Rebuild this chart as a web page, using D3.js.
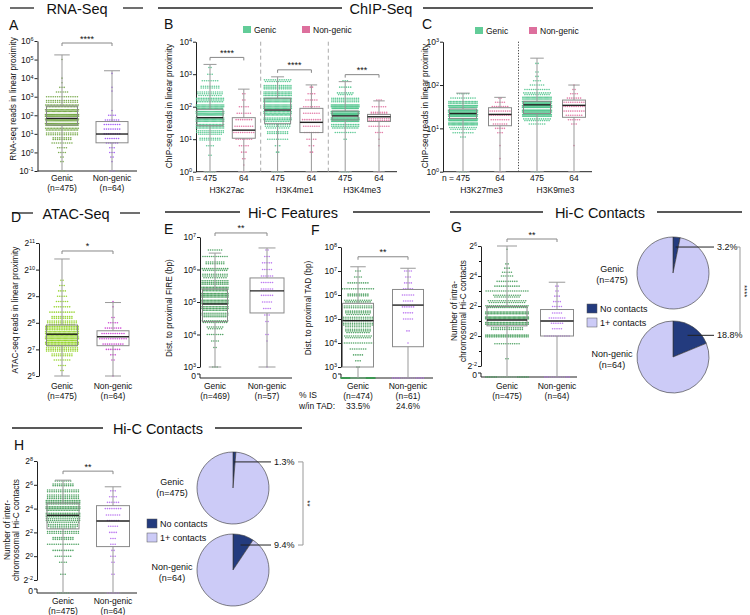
<!DOCTYPE html>
<html>
<head>
<meta charset="utf-8">
<script src="https://cdn.jsdelivr.net/npm/d3@7"></script>
<style>
  body { margin: 0; background: #fff; }
</style>
</head>
<body>
<div class="canvas"></div>
<script>
// ---------- data ----------
const groupNames = ["Genic", "Non-genic"];

// box stats: [low whisker, Q1, median, Q3, high whisker]
// dots: [value, how many points sit at that level]

// A - RNA-seq
const rnaCounts = ["(n=475)", "(n=64)"];
const rnaBoxes = [[0.1, 30, 68, 316, 178000], [0.1, 3.3, 9.8, 46, 25000]];
const rnaGenicDots = [[0.1, 3], [0.32, 2], [0.56, 2], [1, 4], [1.8, 5], [3.2, 10], [5.6, 18], [10, 30], [18, 45], [32, 65], [56, 65], [100, 70], [180, 55], [320, 45], [560, 30], [1000, 15], [1800, 6], [3200, 3], [5600, 1], [10000, 1], [100000, 1]];
const rnaNongenicDots = [[0.1, 3], [0.32, 1], [0.56, 2], [1, 3], [1.8, 3], [3.2, 6], [5.6, 7], [10, 8], [18, 8], [32, 8], [56, 7], [100, 4], [180, 1], [2000, 1], [3200, 1], [18000, 1]];

// B - ChIP-seq active marks
const chipMarks = ["H3K27ac", "H3K4me1", "H3K4me3"];
const chipN = ["475", "64"];
const chipStars = ["****", "****", "***"];
const chipGenicBoxes = [[1, 26, 46, 83, 2000], [1, 30, 79, 182, 830], [1, 39, 52, 74, 590]];
const chipNongenicBoxes = [[1, 10.7, 19, 46, 347], [1, 16, 33, 89, 468], [1, 35, 49, 58, 151]];
const chipGenicDots = [
  [[1, 5], [3.2, 2], [6.3, 4], [10, 20], [16, 40], [25, 60], [40, 75], [63, 80], [100, 70], [160, 50], [250, 35], [400, 18], [630, 8], [1000, 3], [1600, 2]],
  [[1, 5], [4, 2], [6.3, 3], [10, 10], [16, 20], [25, 35], [40, 50], [63, 65], [100, 75], [160, 75], [250, 60], [400, 45], [630, 25]],
  [[1, 4], [10, 2], [16, 10], [25, 50], [40, 110], [63, 130], [100, 100], [160, 45], [250, 15], [400, 6], [630, 3]]
];
const chipNongenicDots = [
  [[1, 2], [1.6, 1], [2.5, 2], [4, 3], [6.3, 5], [10, 8], [16, 10], [25, 9], [40, 8], [63, 7], [100, 5], [160, 2], [250, 2]],
  [[1, 2], [4, 2], [6.3, 3], [10, 5], [16, 7], [25, 8], [40, 9], [63, 8], [100, 8], [160, 6], [250, 4], [400, 2]],
  [[1, 2], [6.3, 1], [10, 1], [16, 4], [25, 10], [40, 20], [63, 16], [100, 7], [160, 3]]
];

// C - ChIP-seq repressive marks
const repMarks = ["H3K27me3", "H3K9me3"];
const repGenicBoxes = [[1, 17, 22, 28, 65], [1, 22, 35, 42, 417]];
const repNongenicBoxes = [[1, 11.5, 21, 30, 52], [1, 18, 34, 45, 100]];
const repGenicDots = [
  [[1, 4], [6.3, 3], [7.9, 10], [10, 25], [12.6, 50], [15.8, 75], [20, 95], [25, 90], [32, 65], [40, 40], [50, 12], [63, 6]],
  [[1, 3], [12.6, 8], [15.8, 25], [20, 60], [25, 90], [32, 100], [40, 85], [50, 50], [63, 25], [79, 12], [100, 7], [126, 4], [158, 2], [200, 2], [316, 2]]
];
const repNongenicDots = [
  [[1, 2], [2, 1], [4, 1], [7.9, 3], [10, 5], [12.6, 7], [15.8, 9], [20, 11], [25, 10], [32, 8], [40, 5], [50, 2]],
  [[1, 1], [4, 1], [12.6, 3], [15.8, 6], [20, 8], [25, 10], [32, 11], [40, 10], [50, 7], [63, 4], [79, 2], [100, 1]]
];

// D - ATAC-seq
const atacCounts = ["(n=475)", "(n=64)"];
const atacBoxes = [[64, 141, 190, 242, 1350], [64, 141, 178, 208, 434]];
const atacGenicDots = [[74, 2], [84, 4], [97, 8], [111, 20], [128, 45], [147, 70], [169, 85], [194, 80], [223, 60], [256, 40], [294, 20], [338, 12], [388, 8], [446, 6], [512, 5], [588, 4], [676, 3], [776, 2]];
const atacNongenicDots = [[64, 1], [97, 2], [111, 3], [128, 7], [147, 10], [169, 13], [194, 11], [223, 8], [256, 5], [294, 2], [388, 1], [446, 1]];

// E - distance to FIRE
const fireCounts = ["(n=469)", "(n=57)"];
const fireBoxes = [[1000, 25000, 87000, 250000, 3200000], [1000, 46000, 220000, 550000, 4600000]];
const fireGenicDots = [[1e3, 3], [4e3, 2], [6.3e3, 4], [1e4, 8], [1.6e4, 15], [2.5e4, 25], [4e4, 40], [6.3e4, 55], [1e5, 60], [1.6e5, 60], [2.5e5, 55], [4e5, 45], [6.3e5, 35], [1e6, 25], [1.6e6, 18], [2.5e6, 12], [4e6, 7]];
const fireNongenicDots = [[1e3, 1], [6.3e3, 1], [1e4, 2], [2.5e4, 2], [4e4, 3], [6.3e4, 4], [1e5, 5], [1.6e5, 6], [2.5e5, 6], [4e5, 6], [6.3e5, 6], [1e6, 5], [1.6e6, 5], [2.5e6, 3], [4e6, 2]];

// F - distance to TAD
const tadCounts = ["(n=474)", "(n=61)"];
const tadInside = ["33.5%", "24.6%"];
const tadBoxes = [[0, 1000, 85000, 450000, 15000000], [0, 7000, 380000, 1700000, 13000000]];
const tadGenicDots = [[0, 159], [1e3, 2], [1.8e3, 3], [3.2e3, 5], [5.6e3, 8], [1e4, 15], [1.8e4, 25], [3.2e4, 35], [5.6e4, 40], [1e5, 40], [1.8e5, 35], [3.2e5, 30], [5.6e5, 25], [1e6, 20], [1.8e6, 15], [3.2e6, 10], [5.6e6, 4], [1e7, 3]];
const tadNongenicDots = [[0, 15], [1e4, 1], [3.2e4, 2], [1e5, 5], [1.8e5, 5], [3.2e5, 6], [5.6e5, 5], [1e6, 6], [1.8e6, 5], [3.2e6, 4], [5.6e6, 3], [1e7, 4]];

// G - intra-chromosomal contacts
const intraCounts = ["(n=475)", "(n=64)"];
const intraBoxes = [[0, 1.6, 2.1, 3.9, 64], [0, 1.0, 2.0, 3.4, 12]];
const intraGenicDots = [[0, 25], [0.35, 2], [0.7, 12], [1, 50], [1.4, 30], [1.8, 60], [2.3, 70], [2.9, 60], [3.9, 45], [4.9, 35], [6.3, 25], [8, 20], [10, 12], [12.5, 10], [16, 6], [19, 5], [23, 3], [28, 2], [55, 1]];
const intraNongenicDots = [[0, 12], [1, 12], [1.4, 5], [1.8, 6], [2.3, 8], [2.9, 5], [3.9, 5], [4.9, 4], [6.3, 3], [8, 2], [10, 2]];
const intraNoContact = [3.2, 18.8];

// H - inter-chromosomal contacts
const interCounts = ["(n=475)", "(n=64)"];
const interBoxes = [[0, 4.9, 10.8, 22, 84], [0, 1.75, 7.8, 19, 57]];
const interGenicDots = [[0, 6], [0.35, 3], [0.7, 4], [1, 8], [1.4, 10], [2, 15], [2.8, 20], [4, 30], [5.7, 40], [8, 50], [11, 60], [16, 65], [23, 60], [32, 45], [45, 30], [64, 20], [80, 8]];
const interNongenicDots = [[0, 6], [0.35, 2], [0.7, 2], [1, 3], [1.4, 2], [2, 3], [2.8, 3], [4, 4], [5.7, 5], [8, 6], [11, 7], [16, 8], [23, 6], [32, 4], [45, 3]];
const interNoContact = [1.3, 9.4];

const pieLegend = ["No contacts", "1+ contacts"];

// ---------- colours ----------
const rnaColors = ["#6da23c", "#9a4cf5"];
const chipColors = ["#4fc48c", "#e06a9c"];
const chipKey = ["#62cc98", "#dd6f9d"];
const atacColors = ["#8fd11f", "#c93ccf"];
const hicColors = ["#3f9a55", "#b56af0"];
const pieColors = ["#233b7e", "#cccbf7"];

// ---------- setup ----------
const svg = d3
  .select(".canvas")
  .append("svg")
  .attr("width", 750)
  .attr("height", 615)
  .style("font-family", '"Liberation Sans", Arial, Helvetica, sans-serif');

const ink = "#111";

const addText = (g, x, y, s, size, anchor = "start") =>
  g.append("text").attr("x", x).attr("y", y).attr("font-size", size)
    .attr("text-anchor", anchor).attr("fill", ink).text(s);

// section header with rules either side
const section = (x1, x2, x3, x4, cx, y, label) => {
  [[x1, x2], [x3, x4]].forEach(([a, b]) =>
    svg.append("line").attr("x1", a).attr("x2", b).attr("y1", y).attr("y2", y)
      .attr("stroke", "#222").attr("stroke-width", 1.3));
  addText(svg, cx, y + 5.5, label, 14.5, "middle");
};

const letter = (x, y, s) => addText(svg, x, y, s, 14, "start");

const yTitle = (x, y, lines) => {
  const t = svg.append("text").attr("transform", `translate(${x},${y}) rotate(-90)`)
    .attr("text-anchor", "middle").attr("font-size", 8.3).attr("fill", ink);
  lines.forEach((l, i) => t.append("tspan").attr("x", 0).attr("dy", i ? 9 : 0).text(l));
};

// log axis with superscript labels
const yAxis = (scale, x, base, exps) => {
  const ax = svg.append("g").attr("transform", `translate(${x},0)`)
    .call(d3.axisLeft(scale).tickValues(exps.map((e) => Math.pow(base, e)))
      .tickSize(3).tickSizeOuter(0).tickFormat(() => ""));
  ax.attr("font-family", null).attr("font-size", null);
  ax.select(".domain").attr("stroke", "#222");
  ax.selectAll(".tick line").attr("stroke", "#222");
  ax.selectAll(".tick text").attr("x", -4).attr("fill", ink).attr("font-size", 8.5)
    .each(function (d, i) {
      const t = d3.select(this);
      t.append("tspan").text(base);
      t.append("tspan").attr("font-size", 5.5).attr("dy", "-0.5em").text(exps[i]);
    });
  return ax;
};

// the short "0" piece below an axis break
const zeroAxis = (x, y0) => {
  svg.append("line").attr("x1", x).attr("x2", x).attr("y1", y0 - 4).attr("y2", y0).attr("stroke", "#222");
  svg.append("line").attr("x1", x - 3).attr("x2", x).attr("y1", y0 - 4).attr("y2", y0 - 4).attr("stroke", "#222");
  addText(svg, x - 4, y0 + 1, "0", 8.5, "end");
};

const xLine = (x1, x2, y) =>
  svg.append("line").attr("x1", x1).attr("x2", x2).attr("y1", y).attr("y2", y).attr("stroke", "#222");

// dots + box for one group
const drawGroup = (y, cx, dots, box, color, boxW, bandH) => {
  const g = svg.append("g");
  const maxW = boxW * 1.1;
  const pts = [];
  dots.forEach(([v, n]) => {
    const yc = y(v);
    const maxSub = v === 0 ? 1 : Math.max(1, Math.floor(bandH / 1.7));
    const nsub = Math.max(1, Math.min(maxSub, Math.ceil((n * 2.2) / maxW)));
    const per = Math.ceil(n / nsub);
    const sp = Math.min(2.2, maxW / per);
    for (let k = 0; k < n; k++) {
      const i = Math.floor(k / per);
      const j = k % per;
      const cnt = Math.min(per, n - i * per);
      pts.push([cx + (j - (cnt - 1) / 2) * sp, yc + (i - (nsub - 1) / 2) * 1.7]);
    }
  });
  g.append("g").selectAll("circle").data(pts).join("circle")
    .attr("cx", (d) => d[0]).attr("cy", (d) => d[1]).attr("r", 0.8)
    .attr("fill", color).attr("fill-opacity", 0.9);

  const [lo, q1, med, q3, hi] = box;
  const b = g.append("g").attr("fill", "none");
  b.append("line").attr("x1", cx).attr("x2", cx).attr("y1", y(hi)).attr("y2", y(q3)).attr("stroke", "#999");
  b.append("line").attr("x1", cx).attr("x2", cx).attr("y1", y(q1)).attr("y2", y(lo)).attr("stroke", "#999");
  [lo, hi].forEach((v) =>
    b.append("line").attr("x1", cx - boxW / 4).attr("x2", cx + boxW / 4)
      .attr("y1", y(v)).attr("y2", y(v)).attr("stroke", "#999"));
  b.append("rect").attr("x", cx - boxW / 2).attr("width", boxW)
    .attr("y", y(q3)).attr("height", y(q1) - y(q3)).attr("stroke", "#8a8a8a");
  b.append("line").attr("x1", cx - boxW / 2).attr("x2", cx + boxW / 2)
    .attr("y1", y(med)).attr("y2", y(med)).attr("stroke", "#222").attr("stroke-width", 1.4);
};

const bracket = (x1, x2, yb, stars) => {
  svg.append("path").attr("d", `M${x1},${yb + 3}V${yb}H${x2}V${yb + 3}`)
    .attr("fill", "none").attr("stroke", "#888");
  addText(svg, (x1 + x2) / 2, yb - 1.5, stars, 9, "middle");
};

const catLabels = (xs, counts, y1) => {
  xs.forEach((x, i) => {
    addText(svg, x, y1, groupNames[i], 8.5, "middle");
    addText(svg, x, y1 + 10, counts[i], 8.5, "middle");
  });
};

// ---------- A: RNA-seq ----------
section(10, 34, 123, 143, 77, 8, "RNA-Seq");
letter(9, 30, "A");
{
  const s = d3.scaleLog().domain([0.1, 1e6]).range([171, 41]);
  const x = d3.scalePoint().domain(groupNames).range([62, 112]);
  yAxis(s, 37.5, 10, [-1, 0, 1, 2, 3, 4, 5, 6]);
  xLine(37.5, 137, 171);
  drawGroup(s, x("Genic"), rnaGenicDots, rnaBoxes[0], rnaColors[0], 31, 4.6);
  drawGroup(s, x("Non-genic"), rnaNongenicDots, rnaBoxes[1], rnaColors[1], 32, 4.6);
  bracket(x("Genic"), x("Non-genic"), 43, "****");
  catLabels(groupNames.map(x), rnaCounts, 181);
  yTitle(16, 99, ["RNA-seq reads in linear proximity"]);
}

// ---------- B: ChIP-seq active ----------
section(158, 342, 423, 593, 381, 8, "ChIP-Seq");
letter(164, 29, "B");
{
  const s = d3.scaleLog().domain([1, 1e4]).range([171.7, 41.7]);
  const keys = chipMarks.flatMap((m) => [m + "-g", m + "-n"]);
  const x = d3.scalePoint().domain(keys).range([210, 379]);
  yAxis(s, 196, 10, [0, 1, 2, 3, 4]);
  xLine(196, 397, 171.7);
  chipMarks.forEach((m, i) => {
    const xg = x(m + "-g"), xn = x(m + "-n");
    drawGroup(s, xg, chipGenicDots[i], chipGenicBoxes[i], chipColors[0], 26, 6.5);
    drawGroup(s, xn, chipNongenicDots[i], chipNongenicBoxes[i], chipColors[1], 23, 6.5);
    const top = Math.min(s(chipGenicBoxes[i][4]), s(chipNongenicBoxes[i][4]));
    bracket(xg, xn, top - 7, chipStars[i]);
    addText(svg, xg, 181, chipN[0], 8.5, "middle");
    addText(svg, xn, 181, chipN[1], 8.5, "middle");
    addText(svg, (xg + xn) / 2, 193, m, 8.5, "middle");
    if (i > 0) {
      const xs = (x(chipMarks[i - 1] + "-n") + xg) / 2;
      svg.append("line").attr("x1", xs).attr("x2", xs).attr("y1", 41.7).attr("y2", 171.7)
        .attr("stroke", "#aaa").attr("stroke-dasharray", "4,3");
    }
  });
  addText(svg, x(keys[0]) - 9, 181, "n =", 8.5, "end");
  [[243, "Genic"], [302, "Non-genic"]].forEach(([lx, t], i) => {
    svg.append("rect").attr("x", lx).attr("y", 26).attr("width", 8).attr("height", 7).attr("fill", chipKey[i]);
    addText(svg, lx + 11, 33, t, 8.5);
  });
  yTitle(172, 106, ["ChIP-seq reads in linear proximity"]);
}

// ---------- C: ChIP-seq repressive ----------
letter(422, 29, "C");
{
  const s = d3.scaleLog().domain([1, 1e3]).range([171.7, 41.7]);
  const keys = repMarks.flatMap((m) => [m + "-g", m + "-n"]);
  const x = d3.scalePoint().domain(keys).range([463, 574]);
  yAxis(s, 443, 10, [0, 1, 2, 3]);
  xLine(443, 592, 171.7);
  repMarks.forEach((m, i) => {
    const xg = x(m + "-g"), xn = x(m + "-n");
    drawGroup(s, xg, repGenicDots[i], repGenicBoxes[i], chipColors[0], 27, 4.3);
    drawGroup(s, xn, repNongenicDots[i], repNongenicBoxes[i], chipColors[1], 23, 4.3);
    addText(svg, xg, 181, chipN[0], 8.5, "middle");
    addText(svg, xn, 181, chipN[1], 8.5, "middle");
    addText(svg, (xg + xn) / 2, 193, m, 8.5, "middle");
    if (i > 0) {
      const xs = (x(repMarks[i - 1] + "-n") + xg) / 2;
      svg.append("line").attr("x1", xs).attr("x2", xs).attr("y1", 41.7).attr("y2", 171.7)
        .attr("stroke", "#444").attr("stroke-dasharray", "1.2,1.6");
    }
  });
  addText(svg, x(keys[0]) - 9, 181, "n =", 8.5, "end");
  [[475, "Genic"], [529, "Non-genic"]].forEach(([lx, t], i) => {
    svg.append("rect").attr("x", lx).attr("y", 27).attr("width", 8).attr("height", 7).attr("fill", chipKey[i]);
    addText(svg, lx + 11, 34, t, 8.5);
  });
  yTitle(428, 106, ["ChIP-seq reads in linear proximity"]);
}

// ---------- D: ATAC-seq ----------
section(12, 33, 120, 140, 76, 213, "ATAC-Seq");
letter(11, 222, "D");
{
  const s = d3.scaleLog().base(2).domain([64, 2048]).range([376, 243]);
  const x = d3.scalePoint().domain(groupNames).range([62, 113]);
  yAxis(s, 39, 2, [6, 7, 8, 9, 10, 11]);
  drawGroup(s, x("Genic"), atacGenicDots, atacBoxes[0], atacColors[0], 31, 5.3);
  drawGroup(s, x("Non-genic"), atacNongenicDots, atacBoxes[1], atacColors[1], 32, 5.3);
  bracket(x("Genic"), x("Non-genic"), s(atacBoxes[0][4]) - 8, "*");
  catLabels(groupNames.map(x), atacCounts, 389);
  yTitle(18, 310, ["ATAC-seq reads in linear proximity"]);
}

// ---------- E: distance to FIRE ----------
section(165, 240, 353, 430, 293, 212, "Hi-C Features");
letter(164, 234, "E");
{
  const s = d3.scaleLog().domain([1e3, 1e7]).range([367, 237]);
  const zeroY = 378;
  const y = (v) => (v === 0 ? zeroY : s(v));
  const x = d3.scalePoint().domain(groupNames).range([215, 267]);
  yAxis(s, 200, 10, [3, 4, 5, 6, 7]);
  zeroAxis(200, zeroY);
  xLine(200, 292, zeroY);
  drawGroup(y, x("Genic"), fireGenicDots, fireBoxes[0], hicColors[0], 25, 6.5);
  drawGroup(y, x("Non-genic"), fireNongenicDots, fireBoxes[1], hicColors[1], 34, 6.5);
  bracket(x("Genic"), x("Non-genic"), Math.min(y(fireBoxes[0][4]), y(fireBoxes[1][4])) - 15, "**");
  catLabels(groupNames.map(x), fireCounts, 389);
  yTitle(172, 308, ["Dist. to proximal FIRE (bp)"]);
}

// ---------- F: distance to TAD ----------
letter(311, 235, "F");
{
  const s = d3.scaleLog().domain([1e3, 1e8]).range([367, 247]);
  const zeroY = 378;
  const y = (v) => (v === 0 ? zeroY : s(v));
  const x = d3.scalePoint().domain(groupNames).range([358, 408]);
  yAxis(s, 341, 10, [3, 4, 5, 6, 7, 8]);
  zeroAxis(341, zeroY);
  xLine(341, 433, zeroY);
  drawGroup(y, x("Genic"), tadGenicDots, tadBoxes[0], hicColors[0], 31, 6);
  drawGroup(y, x("Non-genic"), tadNongenicDots, tadBoxes[1], hicColors[1], 31, 6);
  bracket(x("Genic"), x("Non-genic"), Math.min(y(tadBoxes[0][4]), y(tadBoxes[1][4])) - 10, "**");
  catLabels(groupNames.map(x), tadCounts, 389);
  addText(svg, 299, 398, "% IS", 8.5);
  addText(svg, 299, 409, "w/in TAD:", 8.5);
  tadInside.forEach((t, i) => addText(svg, x(groupNames[i]), 409, t, 8.5, "middle"));
  yTitle(311, 308, ["Dist. to proximal TAD (bp)"]);
}

// ---------- pies ----------
const pieBlock = (cx, cys, pcts, labelX, bracketX, stars) => {
  const R = 36;
  const pie = d3.pie().sort(null).value((d) => d);
  const arc = d3.arc().innerRadius(0).outerRadius(R);
  const mid = d3.arc().innerRadius(0).outerRadius(R * 1.45);
  const ys = [];
  cys.forEach((cy, k) => {
    const arcs = pie([pcts[k], 100 - pcts[k]]);
    const g = svg.append("g").attr("transform", `translate(${cx},${cy})`);
    g.selectAll("path").data(arcs).join("path").attr("d", arc)
      .attr("fill", (d, i) => pieColors[i]).attr("stroke", "#333").attr("stroke-width", 0.6);
    const [px, py] = mid.centroid(arcs[0]);
    g.append("line").attr("x1", px).attr("x2", labelX - cx - 3).attr("y1", py).attr("y2", py)
      .attr("stroke", "#222");
    addText(svg, labelX, cy + py + 3, pcts[k].toFixed(1) + "%", 9);
    ys.push(cy + py);
  });
  svg.append("path")
    .attr("d", `M${bracketX - 5},${ys[0]}H${bracketX}V${ys[1]}H${bracketX - 5}`)
    .attr("fill", "none").attr("stroke", "#999");
  svg.append("text").attr("transform", `translate(${bracketX + 2},${(ys[0] + ys[1]) / 2}) rotate(90)`)
    .attr("text-anchor", "middle").attr("font-size", 8).attr("fill", ink).text(stars);
};

const pieNames = (x, ys, counts) => {
  ys.forEach((y, i) => {
    addText(svg, x, y, groupNames[i], 9, "middle");
    addText(svg, x, y + 11, counts[i], 9, "middle");
  });
};

const pieKey = (x, y) => {
  pieLegend.forEach((t, i) => {
    svg.append("rect").attr("x", x).attr("y", y + i * 14).attr("width", 10).attr("height", 9)
      .attr("fill", pieColors[i]).attr("stroke", "#555").attr("stroke-width", 0.5);
    addText(svg, x + 13, y + 8 + i * 14, t, 9);
  });
};

// ---------- G: intra-chromosomal contacts ----------
section(450, 543, 657, 742, 600, 212, "Hi-C Contacts");
letter(451, 232, "G");
{
  const s = d3.scaleLog().base(2).domain([0.25, 64]).range([366, 246]);
  const zeroY = 377;
  const y = (v) => (v === 0 ? zeroY : s(v));
  const x = d3.scalePoint().domain(groupNames).range([507, 557]);
  yAxis(s, 481, 2, [-2, 0, 2, 4, 6]);
  svg.append("g").attr("transform", "translate(481,0)")
    .call(d3.axisLeft(s).tickValues([0.5, 2, 8, 32]).tickSize(2).tickFormat(() => ""))
    .call((g) => g.select(".domain").remove());
  zeroAxis(481, zeroY);
  xLine(481, 577, zeroY);
  drawGroup(y, x("Genic"), intraGenicDots, intraBoxes[0], hicColors[0], 40, 3.4);
  drawGroup(y, x("Non-genic"), intraNongenicDots, intraBoxes[1], hicColors[1], 33, 3.4);
  bracket(x("Genic"), x("Non-genic"), y(intraBoxes[0][4]) - 7, "**");
  catLabels(groupNames.map(x), intraCounts, 389);
  yTitle(457, 311, ["Number of intra-", "chromosomal Hi-C contacts"]);
  pieBlock(673, [273, 357], intraNoContact, 717, 740, "****");
  pieNames(612, [272, 357], intraCounts);
  pieKey(587, 304);
}

// ---------- H: inter-chromosomal contacts ----------
section(12, 103, 215, 302, 158, 428, "Hi-C Contacts");
letter(14, 450, "H");
{
  const s = d3.scaleLog().base(2).domain([0.25, 256]).range([580, 461]);
  const zeroY = 593;
  const y = (v) => (v === 0 ? zeroY : s(v));
  const x = d3.scalePoint().domain(groupNames).range([63, 113]);
  yAxis(s, 37, 2, [-2, 0, 2, 4, 6, 8]);
  zeroAxis(37, zeroY);
  xLine(37, 137, zeroY);
  drawGroup(y, x("Genic"), interGenicDots, interBoxes[0], hicColors[0], 32, 6);
  drawGroup(y, x("Non-genic"), interNongenicDots, interBoxes[1], hicColors[1], 33, 6);
  bracket(x("Genic"), x("Non-genic"), y(interBoxes[0][4]) - 9, "**");
  catLabels(groupNames.map(x), interCounts, 604);
  yTitle(10, 530, ["Number of inter-", "chromosomal Hi-C contacts"]);
  pieBlock(233, [488, 570], interNoContact, 274, 303, "**");
  pieNames(172, [485, 570], interCounts);
  pieKey(147, 519);
}
</script>
</body>
</html>
